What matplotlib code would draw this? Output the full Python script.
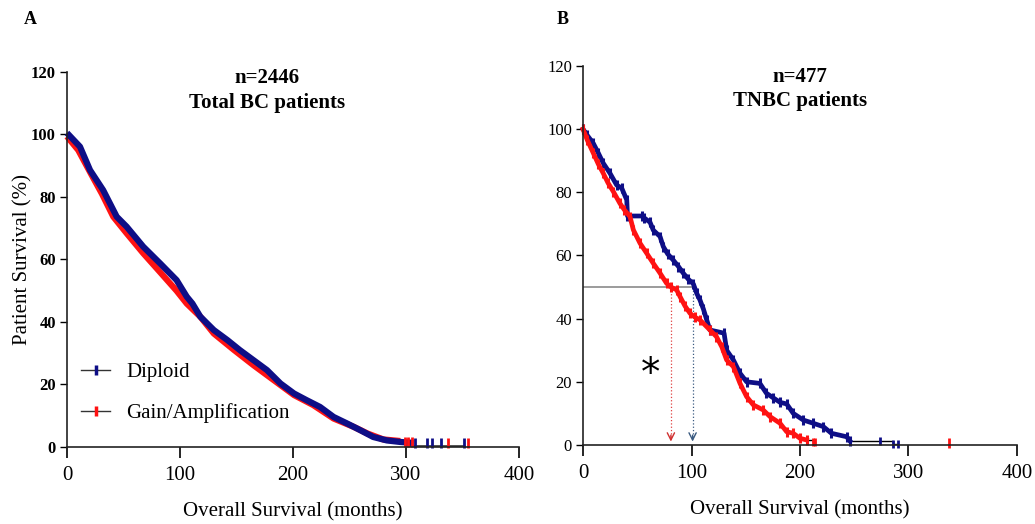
import matplotlib
matplotlib.use("Agg")
import matplotlib.pyplot as plt
from matplotlib.lines import Line2D

# ---- Panel A: total BC patients (n=2446) ----
a_diploid_months = [0, 11.5, 20.4, 32, 44, 52.8, 67.5, 82.3, 97, 106, 111, 118, 130, 142, 153, 165,
                    177, 189, 201, 212, 224, 236, 248, 260, 271, 283, 295, 307]
a_diploid_surv = [100.5, 96.1, 88.6, 82.2, 73.7, 70.5, 64.1, 58.8, 53.4, 48.1, 45.9, 41.7, 37.4, 34.2, 31.0, 27.8,
                  24.6, 20.3, 17.1, 15.0, 12.8, 9.6, 7.5, 5.3, 3.2, 2.1, 1.6, 1.3]
a_gain_months = [0, 10, 21, 31, 41, 52.8, 67.5, 82.3, 97, 106, 118, 130, 148, 165, 183, 201, 218, 236,
                 254, 266, 280, 295]
a_gain_surv = [99.4, 95.0, 87.6, 81.0, 73.7, 68.4, 62.0, 56.0, 50.0, 45.9, 41.7, 36.3, 31.0, 26.2, 21.4, 16.6, 13.4, 9.1,
               6.4, 4.3, 2.4, 1.9]
a_tail_months = [295, 301, 352]
a_tail_surv = [1.9, 0.3, 0.3]
a_diploid_censor_months = [308, 319, 323, 331, 351]
a_diploid_censor_surv = [1.3, 1.3, 1.3, 1.3, 1.3]
a_gain_censor_months = [299, 302, 305, 337, 355]
a_gain_censor_surv = [1.5, 1.5, 1.5, 1.2, 1.2]

# ---- Panel B: TNBC patients (n=477) ----
b_diploid_months = [0, 4, 9.5, 14, 18.7, 24.9, 31, 35.7, 40.3, 41, 54, 56, 61.8, 64.8, 71, 74, 78, 83,
                    88, 92.4, 97, 101.7, 104.8, 107.8, 111, 114, 117, 130, 132.4, 138.6, 144.7, 150.8,
                    163, 169, 175, 181.6, 187.7, 193.8, 203, 212, 221.5, 229, 243, 246]
b_diploid_surv = [100, 98, 95.5, 92.5, 89.2, 86, 82.3, 81.3, 77.6, 72.5, 72.5, 72, 70.5, 68, 66, 62.8, 60.5, 58.6,
                  56.5, 54.4, 52.5, 51, 48, 45.9, 43, 39.6, 36.4, 35.4, 30, 26.9, 22.7, 20,
                  19.5, 16.4, 15, 13.5, 13, 10, 7.9, 6.9, 5.8, 3.7, 2.6, 1.3]
b_diploid_tail_months = [246, 274, 286, 290]
b_diploid_tail_surv = [1.3, 1.3, 0.2, 0.2]
b_gain_months = [0, 4, 9.5, 14, 18.7, 23, 28, 34, 38, 43.3, 46.4, 52.5, 58.7, 64.8, 71, 77, 81, 86.3, 89.4,
                 94, 98.6, 103, 107.8, 117, 123, 128, 132.4, 138.6, 144.7, 150.8, 156.9, 166, 172.3, 181.5,
                 187.7, 193.8, 200, 206]
b_gain_surv = [100, 96.5, 92.4, 89, 86, 83, 80.2, 76.5, 74.5, 72.3, 68.1, 63.9, 60.7, 57.5, 54.4, 51.2, 50, 49.1, 47,
               44, 41.7, 40.5, 39.6, 36.4, 34.3, 31, 26.9, 24.8, 19.5, 15.3, 12.7, 11.1, 9, 6.9,
               4.2, 3.7, 2.1, 1.6]
b_gain_tail_months = [206, 212, 214]
b_gain_tail_surv = [1.6, 0.8, 0.8]
b_gain_censor_months = [337]
b_gain_censor_surv = [0.6]

# median survival markers (months) at 50 %
b_median_gain = 81
b_median_diploid = 101

x_ticks = [0, 100, 200, 300, 400]
y_ticks = [0, 20, 40, 60, 80, 100, 120]

BLUE = '#0e0e86'
RED = '#ff1212'
SERIF = 'Liberation Serif'

plt.rcParams['font.family'] = SERIF

fig = plt.figure(figsize=(10.35, 5.24), dpi=100)
axA = fig.add_axes([0.0647, 0.147, 0.4367, 0.7156])
axB = fig.add_axes([0.5633, 0.1508, 0.4193, 0.7233])


def style_axes(ax, bold_y):
    ax.set_xlim(0, 400)
    ax.set_ylim(0, 120)
    ax.spines['top'].set_visible(False)
    ax.spines['right'].set_visible(False)
    for s in ('left', 'bottom'):
        ax.spines[s].set_linewidth(1.2)
        ax.spines[s].set_color('#222222')
    ax.set_xticks(x_ticks)
    ax.set_yticks(y_ticks)
    ax.tick_params(axis='x', direction='out', length=8, width=1.2, pad=6, labelsize=15)
    ax.tick_params(axis='y', direction='out', length=5, width=1.0, pad=3, labelsize=12)
    for lab in ax.get_yticklabels():
        lab.set_fontweight('bold' if bold_y else 'normal')
    ax.set_xlabel('Overall Survival (months)', fontsize=15, labelpad=12)


# Panel A
style_axes(axA, True)
axA.plot(a_tail_months, a_tail_surv, color='black', lw=1.0, clip_on=False)
axA.plot(a_gain_months, a_gain_surv, color=RED, lw=4.5, solid_capstyle='butt', clip_on=False)
axA.plot(a_diploid_months, a_diploid_surv, color=BLUE, lw=4.5, solid_capstyle='butt', clip_on=False)
axA.plot(a_gain_censor_months, a_gain_censor_surv, ls='none', marker='|', ms=7, mew=2, color=RED, clip_on=False)
axA.plot(a_diploid_censor_months, a_diploid_censor_surv, ls='none', marker='|', ms=7, mew=2, color=BLUE,
         clip_on=False)
axA.set_ylabel('Patient Survival (%)', fontsize=15, labelpad=-1)
axA.text(177, 118, 'n=2446', ha='center', va='center', fontsize=15, fontweight='bold')
axA.text(177, 110.2, 'Total BC patients', ha='center', va='center', fontsize=15, fontweight='bold')

handles = [
    Line2D([], [], color='#333333', lw=1, marker='|', ms=7, mew=2.5, mec=BLUE),
    Line2D([], [], color='#333333', lw=1, marker='|', ms=7, mew=2.5, mec=RED),
]
axA.legend(handles, ['Diploid', 'Gain/Amplification'], loc='upper left', bbox_to_anchor=(-0.01, 0.275),
           frameon=False, fontsize=15, handlelength=1.4, handletextpad=0.75, labelspacing=1.0)

# Panel B
style_axes(axB, False)
axB.step(b_diploid_tail_months, b_diploid_tail_surv, where='post', color='black', lw=1.0, clip_on=False)
axB.step(b_gain_tail_months, b_gain_tail_surv, where='post', color='black', lw=1.0, clip_on=False)
axB.plot(b_diploid_months, b_diploid_surv, color=BLUE, lw=3.4, marker='|', ms=7, mew=2.2, clip_on=False)
axB.plot(b_gain_months, b_gain_surv, color=RED, lw=3.4, marker='|', ms=7, mew=2.2, clip_on=False)
axB.plot(b_diploid_tail_months[1:], b_diploid_tail_surv[1:], ls='none', marker='|', ms=6, mew=2, color=BLUE,
         clip_on=False)
axB.plot(b_gain_tail_months[1:], b_gain_tail_surv[1:], ls='none', marker='|', ms=6, mew=2, color=RED,
         clip_on=False)
axB.plot(b_gain_censor_months, b_gain_censor_surv, ls='none', marker='|', ms=7, mew=2, color=RED, clip_on=False)

# median survival guides
axB.plot([0, b_median_diploid], [50, 50], color='#8a8a8a', lw=1.2, zorder=1)
axB.plot([b_median_gain, b_median_gain], [50, 2], color='#e04040', lw=0.9, ls=':', zorder=1)
axB.plot([b_median_diploid, b_median_diploid], [50, 2], color='#3a5a80', lw=0.9, ls=':', zorder=1)
axB.annotate('', xy=(b_median_gain, 0.2), xytext=(b_median_gain, 4),
             arrowprops=dict(arrowstyle='->', color='#d03030', lw=1.0, mutation_scale=13))
axB.annotate('', xy=(b_median_diploid, 0.2), xytext=(b_median_diploid, 4),
             arrowprops=dict(arrowstyle='->', color='#3a5a80', lw=1.0, mutation_scale=13))
axB.text(62, 22.5, '*', ha='center', va='center', fontsize=28, family='DejaVu Sans')

axB.text(200, 116.5, 'n=477', ha='center', va='center', fontsize=15, fontweight='bold')
axB.text(200, 108.8, 'TNBC patients', ha='center', va='center', fontsize=15, fontweight='bold')

fig.text(30 / 1035, 1 - 20 / 524, 'A', ha='center', va='center', fontsize=13, fontweight='bold')
fig.text(563 / 1035, 1 - 20 / 524, 'B', ha='center', va='center', fontsize=13, fontweight='bold')

fig.savefig('out.png', dpi=100)
